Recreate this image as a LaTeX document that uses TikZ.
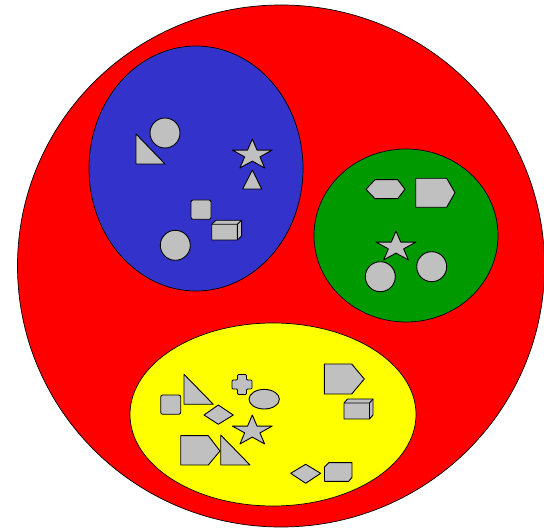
\documentclass[tikz,border=0pt]{standalone}
\usepackage{tikz}
\usetikzlibrary{calc}

\definecolor{setred}{HTML}{FF0000}
\definecolor{setblue}{HTML}{3333CC}
\definecolor{setgreen}{HTML}{009900}
\definecolor{setyellow}{HTML}{FFFF00}
\definecolor{itemgray}{HTML}{C0C0C0}

\tikzset{
  setline/.style={draw=black, line width=0.7pt},
  item/.style={draw=black, fill=itemgray, line width=0.9pt, line join=round},
  edge/.style={draw=black, line width=0.9pt, line join=round}
}

\begin{document}
\begin{tikzpicture}[x=1pt, y=-1pt]
  \useasboundingbox (0,0) rectangle (544,529);

  % Outer set
  \fill[setred, setline] (281,266) ellipse [x radius=263.5, y radius=261];

  % Subsets
  \fill[setblue, setline] (196,168.5) ellipse [x radius=107, y radius=122.5];
  \fill[setgreen, setline] (406,235.5) ellipse [x radius=92, y radius=86.5];
  \fill[setyellow, setline] (273,414.5) ellipse [x radius=143, y radius=91.5];

  % Stars (one in each subset)
  \foreach \cx/\cy in {252.3/155, 396/247, 252.3/431}
    \draw[item, shift={(\cx,\cy)}] (0,-16) -- (4.72,-4.94) -- (19.97,-4.94) -- (7.63,1.89)
      -- (12.35,12.94) -- (0,6.11) -- (-12.35,12.94) -- (-7.63,1.89)
      -- (-19.97,-4.94) -- (-4.72,-4.94) -- cycle;

  % Boxes (silhouette, then inner edges)
  \foreach \bx/\by/\bw/\bh/\dx/\dy in {211.7/224.3/25.6/15.7/4.3/4, 344/403/25.5/16/3.5/4} {
    \draw[item, shift={(\bx,\by)}] (0,\bh) -- (0,0) -- (\dx,-\dy) -- (\bw+\dx,-\dy)
      -- (\bw+\dx,\bh-\dy) -- (\bw,\bh) -- cycle;
    \draw[edge, shift={(\bx,\by)}] (0,0) -- (\bw,0) -- (\bw,\bh) (\bw,0) -- (\bw+\dx,-\dy);
  }

  % Blue subset
  \draw[item] (165,133) circle (15);
  \draw[item] (136,134) -- (136,164) -- (165,164) -- cycle;
  \draw[item] (252.3,170) -- (261.7,189) -- (242.7,189) -- cycle;
  \draw[item, rounded corners=2] (191,200) rectangle (211,219.3);
  \draw[item] (175.3,245.3) circle (15);

  % Green subset
  \draw[item] (366,189.3) -- (375,179.7) -- (397.7,179.7) -- (405,189.3) -- (397.7,198.7)
    -- (375,198.7) -- cycle;
  \draw[item] (415.7,178.3) -- (446.7,178.3) -- (455,192.7) -- (446.7,207.3) -- (415.7,207.3) -- cycle;
  \draw[item] (380.3,276.7) circle (15);
  \draw[item] (431.7,266.7) circle (15);

  % Yellow subset
  \draw[item, rounded corners=2] (160.7,395) rectangle (180.7,414.3);
  \draw[item] (184,374.3) -- (184,404.3) -- (213.3,404.3) -- cycle;
  \draw[item, rounded corners=1] (237.5,374.5) -- (246.5,374.5) -- (246.5,380) -- (252,380)
    -- (252,389) -- (246.5,389) -- (246.5,394.5) -- (237.5,394.5) -- (237.5,389)
    -- (232,389) -- (232,380) -- (237.5,380) -- cycle;
  \draw[item] (264.2,399.2) ellipse [x radius=15.2, y radius=9.8];
  \draw[item] (204,415) -- (218.3,405) -- (233.3,415) -- (218.3,424.3) -- cycle;
  \draw[item] (180.7,435.7) -- (208.3,435.7) -- (220,451) -- (208.3,465) -- (180.7,465) -- cycle;
  \draw[item] (220.7,435) -- (220.7,465) -- (250,465) -- cycle;
  \draw[item] (324.3,364) -- (351.7,364) -- (364.3,379) -- (351.7,394) -- (324.3,394) -- cycle;
  \draw[item] (290.7,473.3) -- (305.7,464.3) -- (320.7,473.3) -- (305.7,483.3) -- cycle;
  \draw[item] (324.5,467) -- (328.7,462.7) -- (352,462.7) -- (352,477.3) -- (348.7,481.3)
    -- (324.5,481.3) -- cycle;
\end{tikzpicture}
\end{document}
